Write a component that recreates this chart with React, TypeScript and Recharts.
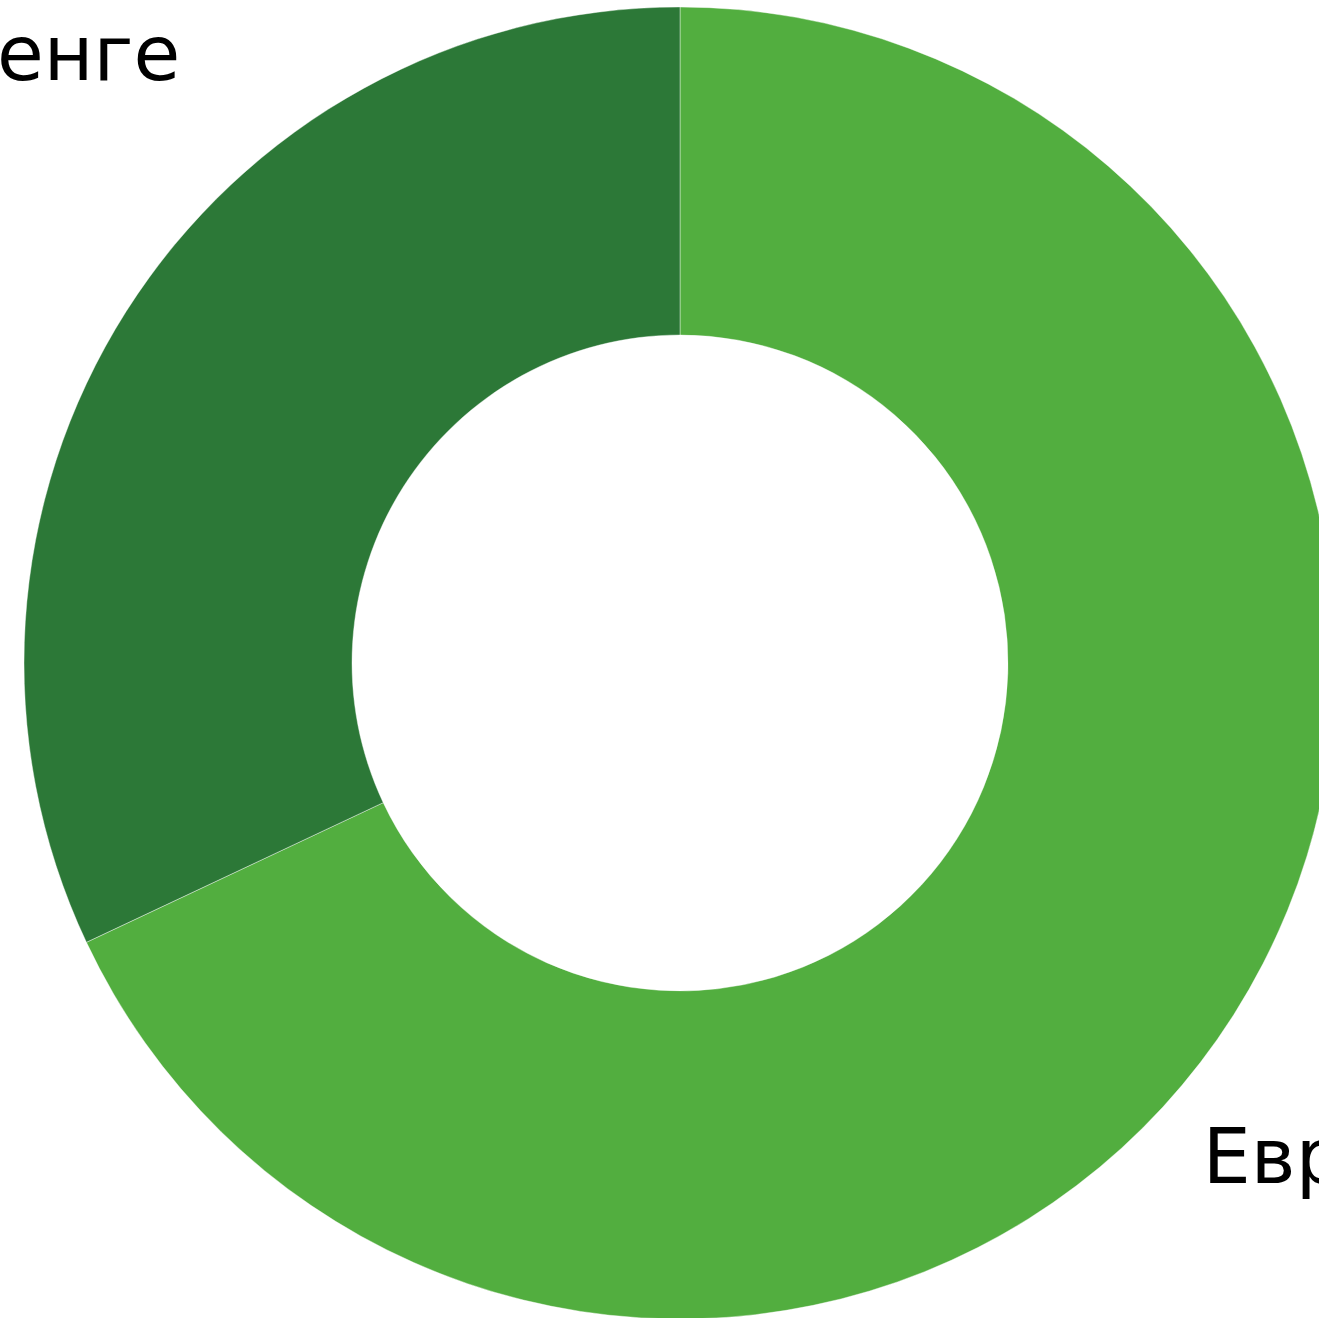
import React from "react";
import { PieChart, Pie, Cell } from "recharts";

const categories = ["Евро", "Тенге"];
const shares = [68, 32];
const colors = ["#52AE3F", "#2C7837"];

const data = categories.map((name, i) => ({ name, value: shares[i] }));

const RAD = Math.PI / 180;

const renderLabel = (props: any) => {
  const { cx, cy, midAngle, outerRadius, name } = props;
  const cos = Math.cos(-midAngle * RAD);
  const left = cos < 0;
  const x = left ? cx - outerRadius * 0.762 : cx + outerRadius * 0.797;
  const y = left ? cy - outerRadius * 0.889 : cy + outerRadius * 0.793;
  return (
    <text
      x={x}
      y={y}
      textAnchor={left ? "end" : "start"}
      fill="#000"
      fontFamily="'DejaVu Sans', 'Noto Sans', sans-serif"
      fontSize={76}
    >
      {name}
    </text>
  );
};

export default function App() {
  return (
    <div style={{ position: "absolute", left: 0, top: 0, width: 1319, height: 1318, overflow: "hidden", background: "#fff" }}>
      <PieChart width={1319} height={1318} margin={{ top: 0, right: 0, bottom: 0, left: 0 }}>
        <Pie
          data={data}
          dataKey="value"
          nameKey="name"
          cx={680}
          cy={663}
          innerRadius={328}
          outerRadius={656}
          startAngle={90}
          endAngle={-270}
          stroke="#ffffff"
          strokeOpacity={0.4}
          strokeWidth={1}
          label={renderLabel}
          labelLine={false}
          isAnimationActive={false}
        >
          {data.map((d, i) => (
            <Cell key={d.name} fill={colors[i]} />
          ))}
        </Pie>
      </PieChart>
    </div>
  );
}
